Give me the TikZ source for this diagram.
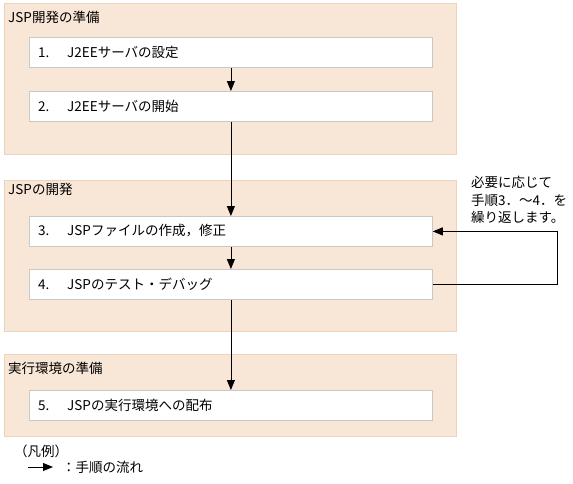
\documentclass[tikz,border=0pt]{standalone}
\usepackage{fontspec}
\setmainfont{Noto Sans CJK JP}
\usetikzlibrary{arrows.meta}
\definecolor{grpfill}{HTML}{F8E6D6}
\definecolor{grpline}{HTML}{EED3BC}
\definecolor{boxline}{HTML}{C8C8C8}
\tikzset{
  grp/.style={draw=grpline, fill=grpfill, line width=0.8pt, anchor=north west, inner sep=0pt},
  stepbox/.style={draw=boxline, fill=white, line width=0.8pt, anchor=north west, minimum width=403pt, minimum height=30pt, inner sep=0pt},
  lbl/.style={anchor=west, inner sep=0pt, font=\fontsize{13.5}{15}\selectfont},
  flow/.style={-{Triangle[length=10pt,width=8pt]}, line width=0.8pt, black},
}
\newcommand{\stepnum}[1]{\makebox[29pt][l]{#1}}
\begin{document}
\begin{tikzpicture}[x=1pt,y=-1pt]
\useasboundingbox (0,0) rectangle (573,483);
% groups
\node[grp, minimum width=452pt, minimum height=151pt] (g1) at (4,3) {};
\node[grp, minimum width=452pt, minimum height=151pt] (g2) at (4,180) {};
\node[grp, minimum width=452pt, minimum height=82pt] (g3) at (4,354) {};
\node[lbl] (t1) at (8,17) {JSP開発の準備};
\node[lbl] (t2) at (8,189) {JSPの開発};
\node[lbl] (t3) at (8,368) {実行環境の準備};
% steps
\node[stepbox] (b1) at (29,37) {};
\node[stepbox] (b2) at (29,91) {};
\node[stepbox] (b3) at (29,216) {};
\node[stepbox] (b4) at (29,269) {};
\node[stepbox] (b5) at (29,390) {};
\node[lbl] (s1) at (38,52) {\stepnum{1.}J2EEサーバの設定};
\node[lbl] (s2) at (38,106) {\stepnum{2.}J2EEサーバの開始};
\node[lbl] (s3) at (38,231) {\stepnum{3.}JSPファイルの作成，修正};
\node[lbl] (s4) at (38,284) {\stepnum{4.}JSPのテスト・デバッグ};
\node[lbl] (s5) at (38,405) {\stepnum{5.}JSPの実行環境への配布};
% flow arrows
\draw[flow] (b1.south) -- (b2.north);
\draw[flow] (b2.south) -- (b3.north);
\draw[flow] (b3.south) -- (b4.north);
\draw[flow] (b4.south) -- (b5.north);
% loop
\coordinate (loopx) at (557,0);
\draw[flow] (b4.east) -- (b4.east -| loopx) |- (b3.east);
\node[lbl, anchor=north west, align=left, font=\fontsize{13.5}{17.5}\selectfont] (note) at (471,176) {必要に応じて\\手順3．～4．を\\繰り返します。};
% legend
\node[lbl] (leg) at (14,451) {（凡例）};
\coordinate (la) at (28,467);
\coordinate (lb) at (53,467);
\draw[flow] (la) -- (lb);
\node[lbl] (legt) at (62,467) {：手順の流れ};
\end{tikzpicture}
\end{document}
